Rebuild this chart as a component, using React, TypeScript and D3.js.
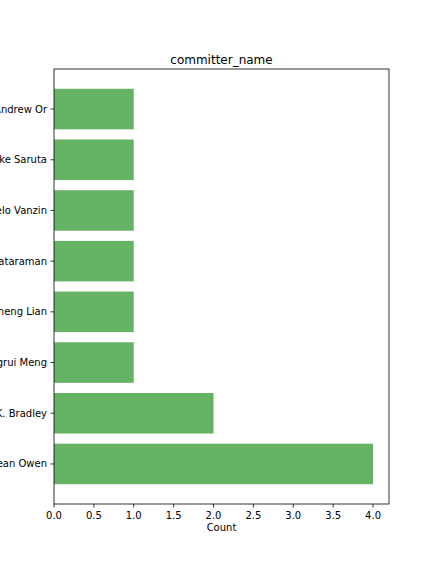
import React, { useEffect, useRef } from 'react';
import * as d3 from 'd3';

const committers = [
	'Sean Owen',
	'Joseph K. Bradley',
	'Xiangrui Meng',
	'Cheng Lian',
	'Shivaram Venkataraman',
	'Marcelo Vanzin',
	'Kousuke Saruta',
	'Andrew Or',
];
const counts = [4, 2, 1, 1, 1, 1, 1, 1];
const xTicks = [0, 0.5, 1, 1.5, 2, 2.5, 3, 3.5, 4];

const W = 432;
const H = 576;
const left = 54;
const right = 389;
const top = 69;
const bottom = 504;

export default function App() {
	const ref = useRef<SVGSVGElement>(null);

	useEffect(() => {
		const svg = d3.select(ref.current);
		svg.selectAll('*').remove();

		const x = d3.scaleLinear().domain([0, 4.2]).range([left, right]);
		const y = d3.scaleLinear().domain([-0.79, 7.79]).range([bottom, top]);
		const font = 'DejaVu Sans, sans-serif';

		svg.append('rect').attr('width', W).attr('height', H).attr('fill', '#fff');

		svg
			.append('g')
			.selectAll('rect')
			.data(counts)
			.enter()
			.append('rect')
			.attr('x', x(0))
			.attr('y', (_, i) => y(i + 0.4))
			.attr('width', (d) => x(d) - x(0))
			.attr('height', (_, i) => y(i - 0.4) - y(i + 0.4))
			.attr('fill', 'rgb(102,179,102)');

		// frame
		svg
			.append('rect')
			.attr('x', left)
			.attr('y', top)
			.attr('width', right - left)
			.attr('height', bottom - top)
			.attr('fill', 'none')
			.attr('stroke', '#000')
			.attr('stroke-width', 0.8);

		const xa = svg.append('g').attr('transform', `translate(0,${bottom})`);
		xTicks.forEach((t) => {
			xa.append('line')
				.attr('x1', x(t))
				.attr('x2', x(t))
				.attr('y1', 0)
				.attr('y2', 3.5)
				.attr('stroke', '#000')
				.attr('stroke-width', 0.8);
			xa.append('text')
				.attr('x', x(t))
				.attr('y', 14.5)
				.attr('text-anchor', 'middle')
				.attr('font-family', font)
				.attr('font-size', 10)
				.attr('fill', '#000')
				.text(t.toFixed(1));
		});

		const ya = svg.append('g').attr('transform', `translate(${left},0)`);
		committers.forEach((c, i) => {
			ya.append('line')
				.attr('x1', 0)
				.attr('x2', -3.5)
				.attr('y1', y(i))
				.attr('y2', y(i))
				.attr('stroke', '#000')
				.attr('stroke-width', 0.8);
			ya.append('text')
				.attr('x', -7)
				.attr('y', y(i))
				.attr('dy', '0.35em')
				.attr('text-anchor', 'end')
				.attr('font-family', font)
				.attr('font-size', 10)
				.attr('fill', '#000')
				.text(c);
		});

		svg
			.append('text')
			.attr('x', (left + right) / 2)
			.attr('y', 531)
			.attr('text-anchor', 'middle')
			.attr('font-family', font)
			.attr('font-size', 10)
			.text('Count');

		svg
			.append('text')
			.attr('x', (left + right) / 2)
			.attr('y', 64)
			.attr('text-anchor', 'middle')
			.attr('font-family', font)
			.attr('font-size', 12)
			.text('committer_name');
	}, []);

	return (
		<svg
			ref={ref}
			width={W}
			height={H}
			style={{ position: 'fixed', left: 0, top: 0, display: 'block' }}
		></svg>
	);
}
